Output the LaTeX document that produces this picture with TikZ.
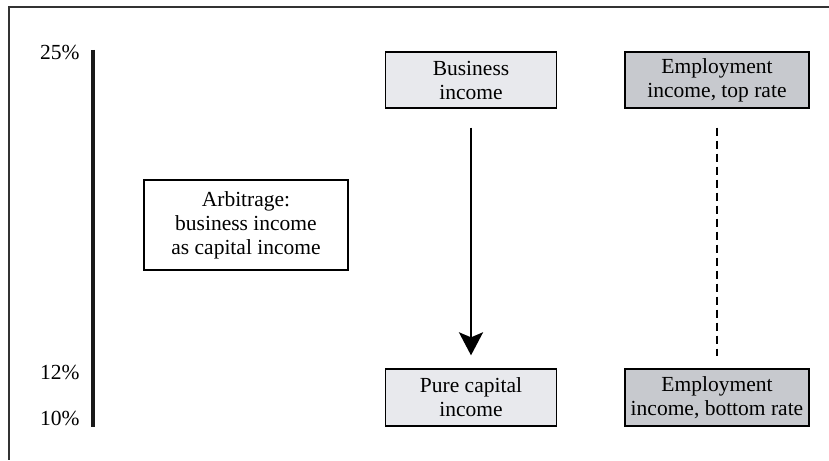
\documentclass[tikz,border=0pt]{standalone}
\usepackage{fontspec}
\setmainfont{Liberation Serif}
\usepackage{tikz}
\usetikzlibrary{arrows.meta}

\begin{document}
\begin{tikzpicture}[
      x=0.5pt, y=-0.5pt,
      every node/.style={font=\fontsize{10.75}{12}\selectfont},
      box/.style={
        draw, line width=0.65pt, align=center,
        inner sep=0pt, minimum height=28pt
      },
      lightbox/.style={box, fill=boxlight, minimum width=85.5pt},
      darkbox/.style={box, fill=boxdark, minimum width=92pt},
      rate/.style={anchor=east, inner sep=0pt}
    ]
      \definecolor{boxlight}{HTML}{E8E9ED}
      \definecolor{boxdark}{HTML}{C7C9CE}
      \useasboundingbox (0,0) rectangle (829,460);
      \draw[line width=0.6pt, black!80] (829,7) -- (9,7) -- (9,460);

      \coordinate (ax0) at (93,50);
      \coordinate (ax1) at (93,427);
      \draw[line width=2.4pt, black!90] (ax0) -- (ax1);
      \node[rate] (r25) at (80,52){25\%};
      \node[rate] (r12) at (80,372){12\%};
      \node[rate] (r10) at (80,418){10\%};

      \node[box, minimum width=102pt, minimum height=45pt] (arb) at (246,225)
        {Arbitrage:\\business income\\as capital income};

      \node[lightbox] (biz) at (471,80){Business\\income};
      \node[darkbox] (emptop) at (717,80){Employment\\income, top rate};
      \node[lightbox, minimum height=28.5pt] (cap) at (471,397.5){Pure capital\\income};
      \node[darkbox, minimum height=28.5pt] (empbot) at (717,397.5){Employment\\income, bottom rate};

      \draw[line width=1.3pt, -{Stealth[length=11.5pt, width=12pt, inset=2.5pt]},
        shorten <=9.5pt, shorten >=6.5pt] (biz) -- (cap);
      \draw[line width=1.4pt, dash pattern=on 4pt off 2.5pt,
        shorten <=9.5pt, shorten >=6pt] (emptop) -- (empbot);
    \end{tikzpicture}
\end{document}
